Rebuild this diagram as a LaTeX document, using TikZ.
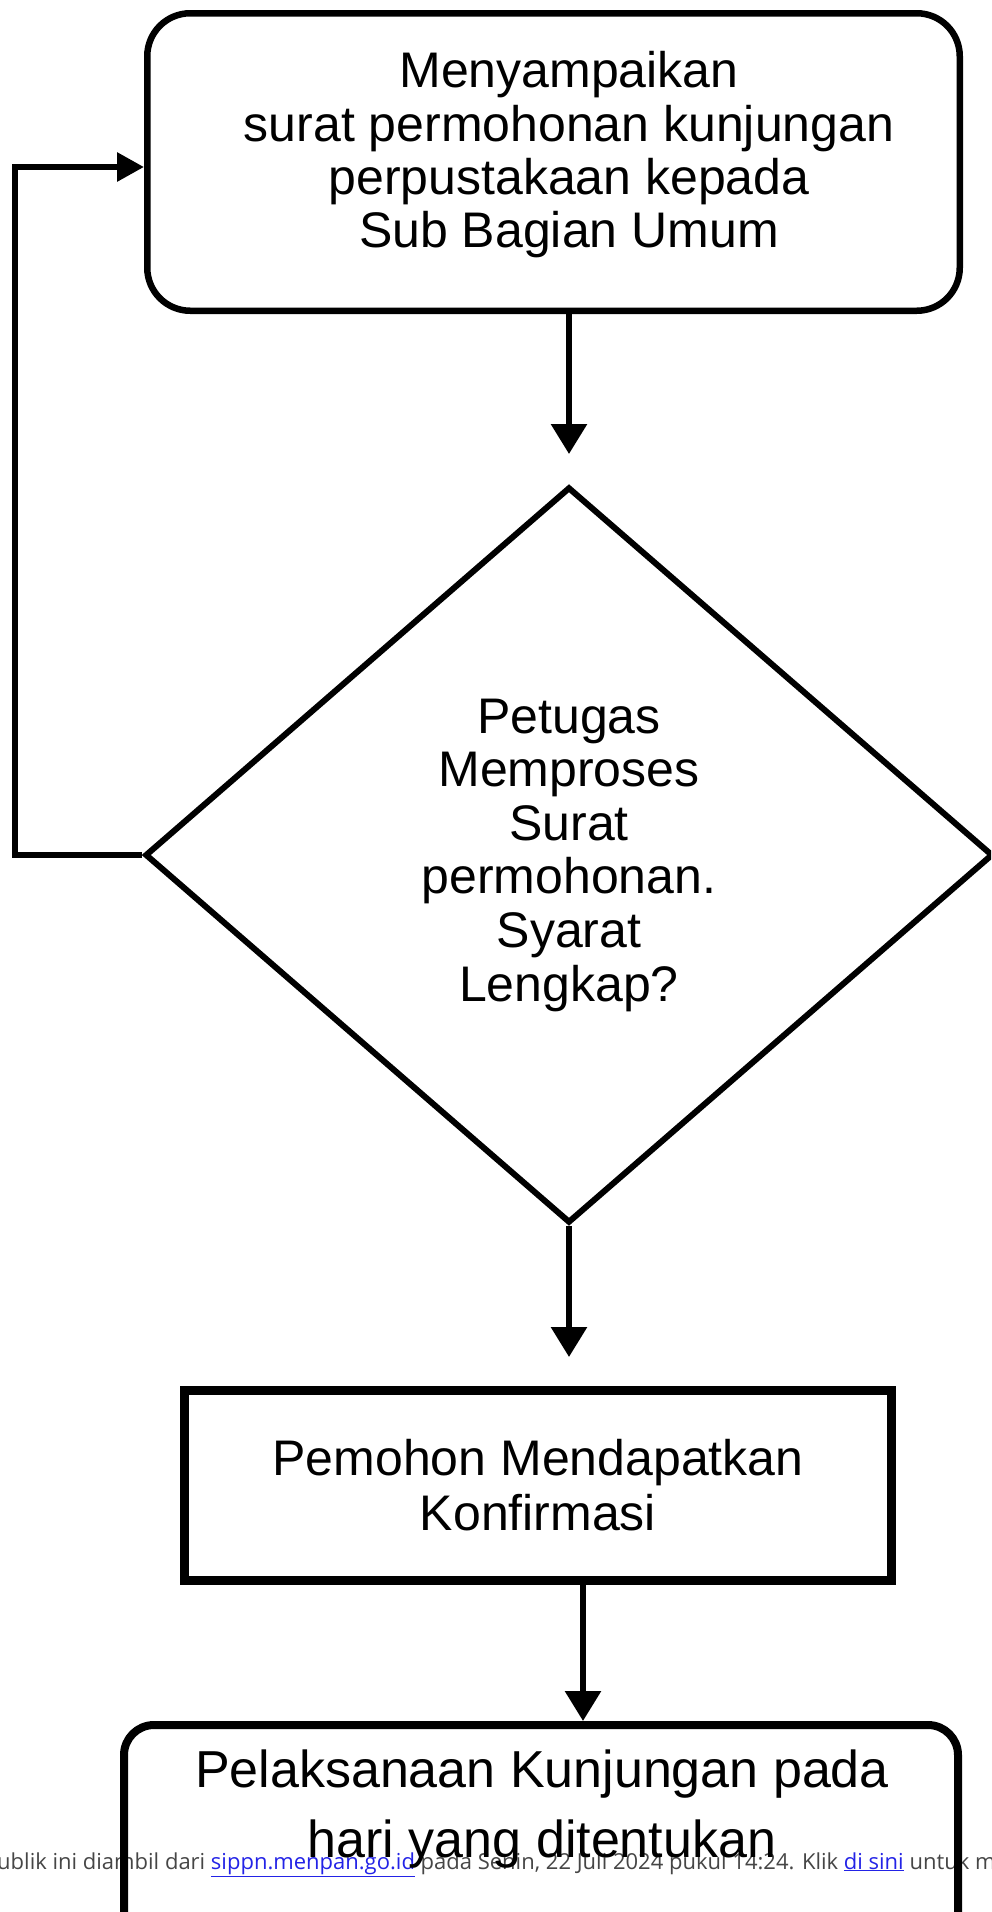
\documentclass[tikz,border=0pt]{standalone}
\usepackage{fontspec}
\setmainfont{Liberation Sans}
\newfontfamily\webfont{Open Sans}
\usetikzlibrary{shapes.geometric, arrows.meta}

\definecolor{linkblue}{RGB}{35,35,230}
\definecolor{webgray}{RGB}{70,70,70}

\begin{document}
\begin{tikzpicture}[x=1pt, y=-1pt,
    flowtext/.style={align=center, inner sep=0pt, font=\fontsize{50}{53.3}\selectfont},
    roundbox/.style={draw, line width=6.5pt, rounded corners=43pt},
    decision/.style={draw, diamond, line width=6pt, align=center, inner sep=0pt,
        font=\fontsize{50}{53.6}\selectfont},
    actbox/.style={draw, line width=9pt, align=center, font=\fontsize{50}{55}\selectfont},
    flow/.style={line width=6pt, -{Triangle[length=30pt, width=35pt]}}]
    \useasboundingbox (0,0) rectangle (991,1912);
    \clip (0,0) rectangle (991,1912);

    % web note over the picture
    \node[anchor=base west, inner sep=0pt, text=webgray, font=\webfont\fontsize{22}{26}\selectfont] (note) at (-3,1869)
        {ublik ini diambil dari \textcolor{linkblue}{\underline{sippn.menpan.go.id}} pada Senin, 22 Juli 2024 pukul 14:24. Klik \textcolor{linkblue}{\underline{di sini}} untuk m};

    \node[roundbox, minimum width=812.5pt, minimum height=297.5pt] (start) at (553.5,162) {};
    \node[flowtext] (startText) at (569,155) {Menyampaikan\\ surat permohonan kunjungan\\ perpustakaan kepada\\ Sub Bagian Umum};

    \node[decision, minimum width=848pt, minimum height=736pt] (dec) at (569,855)
        {Petugas\\ Memproses\\ Surat\\ permohonan.\\ Syarat\\ Lengkap?};

    \node[actbox, minimum width=707pt, minimum height=190pt] (confirm) at (538,1485.5) {Pemohon Mendapatkan\\ Konfirmasi};

    \node[roundbox, line width=8pt, rounded corners=30pt, minimum width=834pt, minimum height=300pt, anchor=north] (visit) at (541,1721) {};
    \node[flowtext, font=\fontsize{52}{70}\selectfont] (visitText) at (542,1809) {Pelaksanaan Kunjungan pada\\ hari yang ditentukan};

    \draw[flow, shorten >=30pt] (dec.north |- start.south) -- (dec.north);
    \draw[flow, shorten >=29pt] (dec.south) -- (dec.south |- confirm.north);
    \draw[flow] ([xshift=45pt]confirm.south) -- ([xshift=45pt]confirm.south |- visit.north);

    %\draw (dec.west) -- (start.west);
    \coordinate (back) at (15,167);
    \draw[flow, -{Triangle[length=27pt, width=28pt]}] (dec.west) -| (back) -- (back -| start.west);
\end{tikzpicture}
\end{document}
